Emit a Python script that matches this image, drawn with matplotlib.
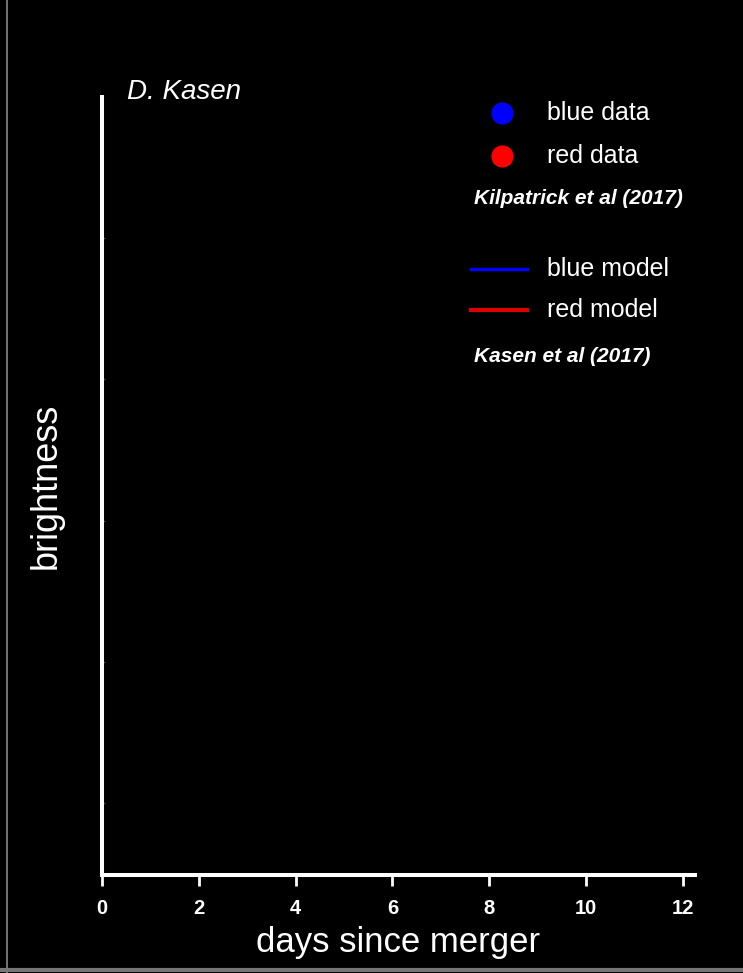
import matplotlib
matplotlib.use("Agg")
import matplotlib.pyplot as plt
from matplotlib import font_manager
from matplotlib.lines import Line2D

# Light-curve data (no observations plotted yet)
blue_days = []
blue_brightness = []
red_days = []
red_brightness = []
model_days = []
blue_model = []
red_model = []

x_ticks = [0, 2, 4, 6, 8, 10, 12]
y_ticks = [0, 1, 2, 3, 4]

names = {f.name for f in font_manager.fontManager.ttflist}
base = "Liberation Sans" if "Liberation Sans" in names else "DejaVu Sans"
narrow = "Liberation Sans Narrow" if "Liberation Sans Narrow" in names else base
plt.rcParams["font.family"] = [base, "DejaVu Sans"]

fig = plt.figure(figsize=(7.43, 9.73), dpi=100, facecolor="black")
ax = fig.add_axes([0.1373, 0.1007, 0.798, 0.7996], facecolor="black")

ax.plot(blue_days, blue_brightness, "o", color="#0000ff", ms=14)
ax.plot(red_days, red_brightness, "o", color="#ff0000", ms=14)
ax.plot(model_days, blue_model, "-", color="#0000ff", lw=3)
ax.plot(model_days, red_model, "-", color="#dd0000", lw=3)

ax.set_xlim(0, 12.25)
ax.set_ylim(-0.51, 5.0)

for side in ("top", "right"):
    ax.spines[side].set_visible(False)
for side in ("left", "bottom"):
    ax.spines[side].set_color("white")
    ax.spines[side].set_linewidth(2.9)

ax.set_xticks(x_ticks)
ax.set_xticklabels([str(t) for t in x_ticks], family=[narrow, base],
                   fontweight="bold", fontsize=14.5, color="white")
ax.tick_params(axis="x", direction="out", length=8, width=2,
               color="white", pad=9)
ax.set_yticks(y_ticks)
ax.set_yticklabels([])
ax.tick_params(axis="y", direction="in", length=2, width=1, color="#444444")

ax.set_xlabel("days since merger", color="white", fontsize=25, labelpad=6)
ax.set_ylabel("brightness", color="white", fontsize=26, labelpad=24)

# author credit
fig.text(127 / 743, 1 - 92 / 973, "D. Kasen", color="white", fontsize=20,
         style="italic", va="center", ha="left")

# legend, drawn by hand in figure coordinates
def fy(py):
    return 1 - py / 973

def fx(px):
    return px / 743

fig.add_artist(Line2D([fx(502)], [fy(113)], marker="o", ms=15,
                      color="#0000ff", ls="none"))
fig.add_artist(Line2D([fx(502)], [fy(156)], marker="o", ms=15,
                      color="#ff0000", ls="none"))
fig.add_artist(Line2D([fx(471), fx(527)], [fy(269), fy(269)],
                      color="#0000ff", lw=2.5))
fig.add_artist(Line2D([fx(471), fx(527)], [fy(310), fy(310)],
                      color="#dd0000", lw=3))

for py, txt in [(113, "blue data"), (156, "red data"),
                (269, "blue model"), (310, "red model")]:
    fig.text(fx(547), fy(py), txt, color="white", fontsize=18,
             va="center", ha="left")
for py, txt in [(199, "Kilpatrick et al (2017)"), (356, "Kasen et al (2017)")]:
    fig.text(fx(474), fy(py), txt, color="white", fontsize=15,
             style="italic", fontweight="bold", va="center", ha="left")

# frame edges
fig.add_artist(Line2D([fx(7), fx(7)], [0.0, 1.0], color="#888888", lw=1.2))
fig.add_artist(Line2D([0, 1], [fy(970), fy(970)], color="#777777", lw=3))

fig.savefig("out.png", dpi=100, facecolor="black")
